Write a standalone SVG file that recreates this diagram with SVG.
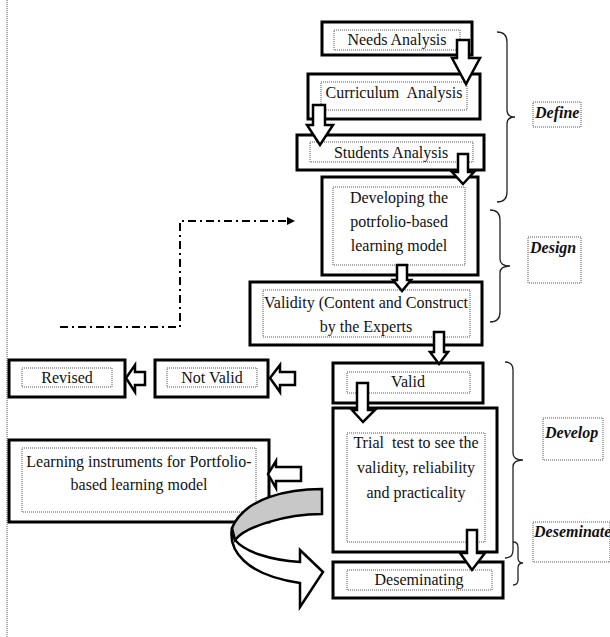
<svg xmlns="http://www.w3.org/2000/svg" width="610" height="637" viewBox="0 0 610 637">
<defs>
<style>
.box{fill:#fff;stroke:#000;stroke-width:3}
.inner{fill:none;stroke:#555;stroke-width:1;stroke-dasharray:1,1}
.t{font-family:"Liberation Serif","Times New Roman",serif;font-size:16px;fill:#111;text-anchor:middle;white-space:pre}
.lbl{font-family:"Liberation Serif","Times New Roman",serif;font-size:16px;font-weight:bold;font-style:italic;fill:#111;white-space:pre}
.arr{fill:#fff;stroke:#000;stroke-width:2.5;stroke-linejoin:miter}
.brace{fill:none;stroke:#222;stroke-width:1.3}
.dash{fill:none;stroke:#000;stroke-width:2;stroke-dasharray:8,4,2,4}
</style>
<marker id="tri" markerWidth="8" markerHeight="8" refX="7" refY="4" orient="auto" markerUnits="userSpaceOnUse">
<path d="M0,0 L8,4 L0,8 Z" fill="#000"/>
</marker>
</defs>
<rect width="610" height="637" fill="#fff"/>
<line x1="7" y1="0" x2="7" y2="637" stroke="#555" stroke-width="1" stroke-dasharray="1,1"/>

<g id="needs"><rect class="box" x="322" y="22" width="150" height="33"/><rect class="inner" x="334" y="30" width="126" height="20"/><text class="t" x="397" y="45">Needs Analysis</text></g>
<g id="curriculum"><rect class="box" x="308" y="74" width="172" height="45"/><rect class="inner" x="321" y="82" width="146" height="28"/><text class="t" x="394" y="98">Curriculum  Analysis</text></g>
<g id="students"><rect class="box" x="297" y="135" width="187" height="35"/><rect class="inner" x="310" y="142" width="163" height="20"/><text class="t" x="391" y="158">Students Analysis</text></g>
<g id="developing"><rect class="box" x="322" y="177" width="156" height="98"/><rect class="inner" x="333" y="187" width="132" height="78"/><text class="t" x="399" y="203">Developing the</text><text class="t" x="399" y="227">potrfolio-based</text><text class="t" x="399" y="251">learning model</text></g>
<g id="validity"><rect class="box" x="250" y="282" width="232" height="63"/><rect class="inner" x="263" y="290" width="207" height="47"/><text class="t" x="366" y="308">Validity (Content and Construct</text><text class="t" x="366" y="332">by the Experts</text></g>
<g id="valid"><rect class="box" x="333" y="363" width="150" height="40"/><rect class="inner" x="347" y="372" width="123" height="21"/><text class="t" x="408" y="387">Valid</text></g>
<g id="trial"><rect class="box" x="333" y="408" width="164" height="144"/><rect class="inner" x="347" y="433" width="138" height="109"/><text class="t" x="416" y="448">Trial  test to see the</text><text class="t" x="416" y="473">validity, reliability</text><text class="t" x="416" y="498">and practicality</text></g>
<g id="deseminating"><rect class="box" x="333" y="562" width="170" height="36"/><rect class="inner" x="347" y="570" width="145" height="20"/><text class="t" x="419" y="585">Deseminating</text></g>
<g id="revised"><rect class="box" x="9" y="360" width="116" height="37"/><rect class="inner" x="22" y="368" width="90" height="19"/><text class="t" x="67" y="383">Revised</text></g>
<g id="notvalid"><rect class="box" x="155" y="360" width="113" height="37"/><rect class="inner" x="167" y="368" width="90" height="19"/><text class="t" x="212" y="383">Not Valid</text></g>
<g id="learning"><rect class="box" x="9" y="440" width="260" height="82"/><rect class="inner" x="22" y="448" width="234" height="64"/><text class="t" x="139" y="467">Learning instruments for Portfolio-</text><text class="t" x="139" y="490">based learning model</text></g>

<g id="label-define"><rect class="inner" x="533" y="102" width="48" height="25"/><text class="lbl" x="535" y="118">Define</text></g>
<g id="label-design"><rect class="inner" x="528" y="237" width="53" height="46"/><text class="lbl" x="530" y="253">Design</text></g>
<g id="label-develop"><rect class="inner" x="543" y="418" width="60" height="42"/><text class="lbl" x="545" y="438">Develop</text></g>
<g id="label-deseminate"><rect class="inner" x="533" y="522" width="77" height="40"/><text class="lbl" x="534" y="537">Deseminate</text></g>

<g id="braces">
<path class="brace" d="M497,32 Q507,32 507,42 L507,110 Q507,117 515,117 Q507,117 507,124 L507,192 Q507,202 497,202"/>
<path class="brace" d="M490,210 Q500,210 500,220 L500,259 Q500,266 510,266 Q500,266 500,273 L500,312 Q500,322 490,322"/>
<path class="brace" d="M505,362 Q513,362 513,370 L513,453 Q513,460 523,460 Q513,460 513,467 L513,550 Q513,558 505,558"/>
<path class="brace" d="M513,542 Q518,542 518,547 L518,558 Q518,563 523,563 Q518,563 518,568 L518,580 Q518,585 513,585"/>
</g>

<g id="connectors">
<path class="dash" d="M60,327 L180,327 L180,221 L294,221" marker-end="url(#tri)"/>
<polygon class="arr" points="457,40 469,40 469,58 480,58 466,84 452,58 457,58"/>
<polygon class="arr" points="313,105 325,105 325,125 333,125 320,145 307,125 313,125"/>
<polygon class="arr" points="458,154 468,154 468,172 474,172 463,184 452,172 458,172"/>
<polygon class="arr" points="397,265 407,265 407,280 411,280 402,291 393,280 397,280"/>
<polygon class="arr" points="434,332 444,332 444,352 448,352 439,364 430,352 434,352"/>
<polygon class="arr" points="357,383 368,383 368,410 375,410 363,422 352,410 357,410"/>
<polygon class="arr" points="467,530 477,530 477,553 485,553 472,570 460,553 467,553"/>
<polygon class="arr" points="145,372 145,385 135,385 135,392 126,378 135,365 135,372"/>
<polygon class="arr" points="295,372 295,385 280,385 280,392 270,378 280,365 280,372"/>
<polygon class="arr" points="301,467 301,481 276,481 276,488 268,474 276,461 276,467"/>
<path class="arr" d="M232,528 C228,550 245,575 300,583 L300,607 L323,572 L300,550 L300,562 C270,560 245,552 235,540 Z"/>
<path class="arr" style="fill:#c8c8c8" d="M322,489 C290,489 245,497 232,528 L235,540 C245,527 285,514 322,514 Z"/>
</g>
</svg>
